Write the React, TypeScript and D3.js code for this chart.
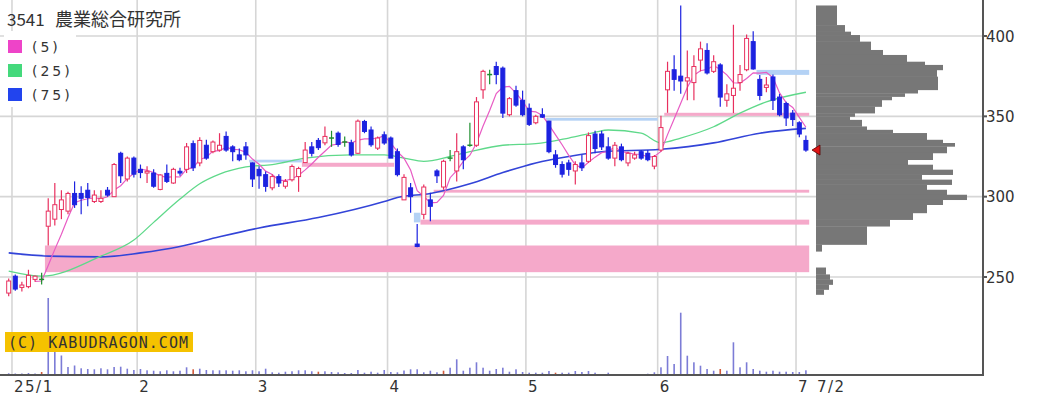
import React from "react";
import * as d3 from "d3";

// ---- Data ----
const titleCode = "3541";
const titleName = "農業総合研究所";
const maLabels = ["(5)", "(25)", "(75)"];

// trading-day index 0 = 2024/12/30 ... 121 = 2025/7/2
const openP = [
  240, 250.5, 243.5, 244, 248.5, 248.5, 281.6, 286, 292, 291,
  302, 302, 304, 297, 297, 304, 300, 327, 311, 324,
  317, 314.7, 314.7, 304.5, 314.5, 308.5, 315.8, 317, 333, 321,
  332, 328, 329, 337.5, 331, 326, 331, 321, 317, 313.7,
  305.5, 312.5, 306.5, 310.5, 312.5, 321.2, 331, 335, 333.5, 336.5,
  339.5, 334, 333.5, 327, 346.8, 341.5, 330.2, 338.5, 336.5, 328,
  298, 305.5, 270.5, 289, 298, 316, 306, 324, 316, 331,
  332, 332, 366.5, 376, 381, 380, 351, 366, 360, 355,
  346, 351, 347, 326, 320, 321, 316, 321, 322, 339,
  339, 331, 324, 331, 321, 324, 328, 327, 319, 329,
  366.5, 379, 375, 372, 371, 385, 391, 378, 382, 360,
  363, 371, 379, 396.5, 373, 368, 374.5, 362, 358, 352,
  346, 335,
];
const highP = [
  249, 251.5, 247, 254.5, 251, 252.6, 299, 308.5, 304, 303,
  309.5, 306.5, 308.5, 304, 304, 306, 321, 328, 325, 325,
  320, 319, 317, 314, 320, 318, 318, 333.4, 335, 337,
  335.5, 335, 339.5, 340.5, 332, 330, 334, 321.3, 319, 315.7,
  314, 314, 311, 320, 318.6, 334, 334, 336.5, 343.7, 341,
  340.5, 337.5, 335.5, 348, 347.8, 343.7, 337.5, 340.6, 337.5, 330,
  314, 308.5, 283, 307.5, 302.5, 317, 323, 329, 339.5, 332,
  346, 362, 379, 379, 384, 381, 362, 369, 366, 358,
  351, 355, 347.3, 329, 322, 323, 322, 326, 340, 341,
  341, 337, 334, 333, 328, 328, 329, 329, 326, 350.3,
  384, 388, 419, 391, 388, 396.5, 395.5, 388, 383, 370,
  407, 382, 401, 403, 375.8, 374.5, 376, 364, 359, 354,
  347, 338,
];
const lowP = [
  238, 241.5, 241, 243, 247, 245.3, 269.6, 282, 286, 289,
  293, 289, 294, 296, 296, 300, 300, 308.5, 309.5, 312,
  311.5, 308.5, 305.5, 304, 308.5, 308, 313, 314.7, 316, 319,
  323, 327, 328, 328, 322, 322, 323, 306, 305, 303,
  304, 306, 305, 309.5, 303, 321.1, 325, 329, 332, 331,
  331, 331, 325, 326.5, 339.5, 331, 329, 332.3, 324, 312.6,
  298, 290, 268.5, 286, 284.7, 308.5, 304.3, 322, 309.5, 317,
  331, 331, 361, 370, 370, 349, 350, 356, 350, 344,
  345, 349, 327, 318, 312, 313, 307.5, 316, 321, 327,
  329, 323, 319, 322, 319, 323, 323, 322, 317, 328,
  352.2, 366, 364, 360, 360, 378, 376, 377, 356, 356,
  352, 366, 378, 379, 360, 365, 354, 350, 344, 344,
  337, 328,
];
const closeP = [
  247.5, 242.5, 245, 251, 250.5, 248.5, 291, 295, 298, 302,
  295, 299, 299.5, 301, 299, 301, 320, 313, 324, 314,
  315, 315.8, 306.5, 313.5, 309.5, 317, 314.7, 331, 318, 335,
  324, 334, 332, 329, 328, 323, 326, 311, 313, 306.4,
  312.5, 308.5, 309.5, 318.8, 317.5, 329, 327, 330.5, 337.5, 336.5,
  332.5, 334, 326, 347, 340.6, 332.3, 336.5, 333.4, 324, 313.7,
  312, 300, 269, 306, 294, 313, 322, 324, 328, 323,
  332, 359, 378, 376, 376, 352, 361, 357, 351, 345,
  350, 349.5, 328, 320, 314, 317, 320, 318, 338, 330,
  331, 324, 332, 323, 327, 326, 324, 323, 325, 343,
  378, 373, 372, 374, 381, 392, 377, 384, 362, 364,
  367.5, 376, 398.5, 379.5, 363, 369.5, 360, 351, 349, 348,
  339, 329,
];
const volumeK = [
  17, 15, 15, 20, 15, 30, 770, 240, 195, 80,
  95, 67, 60, 57, 67, 57, 80, 83, 63, 50,
  60, 47, 43, 37, 47, 37, 43, 77, 57, 63,
  50, 47, 47, 47, 43, 47, 37, 47, 37, 63,
  27, 23, 33, 37, 47, 47, 37, 33, 37, 30,
  27, 20, 20, 50, 23, 33, 23, 50, 30, 27,
  45, 57, 57, 27, 43, 27, 43, 73, 157, 43,
  73, 127, 73, 43, 60, 73, 33, 57, 30, 23,
  23, 23, 40, 23, 23, 23, 40, 30, 40, 23,
  10, 23, 10, 10, 10, 10, 10, 13, 27, 77,
  190, 110, 623, 193, 127, 93, 60, 43, 60, 43,
  327, 77, 127, 60, 43, 33, 43, 33, 33, 30,
  30, 47,
];
const redVolumeDays = [5, 28, 47, 66, 83, 108];

// moving averages read at sample days
const ma25Day = [0, 5, 14, 19, 22, 26, 29, 32, 36, 40, 45, 52, 57, 60, 63, 67, 70, 75, 80, 85, 89, 91, 96, 99, 102, 107, 111, 115, 121];
const ma25Val = [253.6, 250.5, 263, 273, 284, 298.5, 308, 314, 318.5, 320, 324, 326, 326, 324, 322, 325, 328, 332, 333, 336.5, 340, 341.5, 339.5, 333.5, 336.5, 343.5, 352, 359, 365];
const ma75Day = [0, 6, 14, 20, 26, 32, 38, 47, 57, 59, 64, 70, 75, 80, 85, 90, 99, 107, 114, 121];
const ma75Val = [265, 263, 262.5, 265, 269, 275, 280.5, 287, 297, 299.5, 302, 308, 315, 321, 325, 328, 329.5, 333.5, 339.5, 342.5];

// window (gap) zones
const zoneFrom = [6, 37, 45, 62, 63, 65, 82, 100, 114];
const zoneTo = [121, 44, 58, 62, 121, 121, 98, 121, 121];
const zoneLo = [253, 321.3, 318.6, 284, 282.6, 302.5, 347.3, 350.3, 375.8];
const zoneHi = [269.6, 323, 321.1, 290, 285.7, 304.3, 349, 352.2, 378.9];
const zoneUp = [true, false, true, false, true, true, false, true, false];

// price-by-volume profile
const profHi = [419, 406.8, 402.7, 400.6, 396.5, 391.3, 388.2, 384, 382, 378.9, 374.7, 366.5, 364.4, 362.3, 360.2, 356.1, 352, 349.9, 347.8, 343.7, 341.6, 339.6, 335.4, 333.4, 331.3, 327.2, 323, 319.9, 316.8, 313.7, 310.6, 307.5, 304.3, 301.2, 298.1, 295, 289.9, 285.7, 281.6, 270.2, 255.9, 251.6, 248.4, 245.3, 242.2];
const profLo = [406.8, 402.7, 400.6, 396.5, 391.3, 388.2, 384, 382, 378.9, 374.7, 366.5, 364.4, 362.3, 360.2, 356.1, 352, 349.9, 347.8, 343.7, 341.6, 339.6, 335.4, 333.4, 331.3, 327.2, 323, 319.9, 316.8, 313.7, 310.6, 307.5, 304.3, 301.2, 298.1, 295, 289.9, 285.7, 281.6, 270.2, 266, 251.6, 248.4, 245.3, 242.2, 239.1];
const profVol = [21, 29, 35, 44, 55, 67, 91, 109, 127, 121, 122, 102, 89, 76, 66, 59, 39, 34, 46, 51, 77, 111, 127, 139, 131, 117, 92, 117, 137, 106, 136, 111, 131, 151, 127, 111, 97, 74, 51, 6, 10, 14, 17, 13, 8];

const priceTicks = [250, 300, 350, 400];
const monthTickDay = [1, 20, 38, 58, 79, 99, 120];
const monthTickLabel = ["25/1", "2", "3", "4", "5", "6", "7"];
const lastDateLabel = "7/2";

export default function App() {
  const W = 1044, H = 406;
  const N = closeP.length;
  const days = d3.range(N);
  const x = d3.scaleBand<number>().domain(days).range([5.4, 809.2]);
  const step = x.step();
  const cx = (i: number) => (x(i) as number) + step / 2;
  const y = d3.scaleLinear().domain([250, 400]).range([277, 36]);
  const vy = d3.scaleLinear().domain([0, 800]).range([375, 295]);
  const px = d3.scaleLinear().domain([0, 151]).range([816, 967]);
  const axisX = 983, baseY = 375;

  const ma5 = days.filter((i) => i >= 4).map((i) => ({ i, v: d3.mean(closeP.slice(i - 4, i + 1)) as number }));
  const lineLin = d3.line<{ i: number; v: number }>().x((d) => cx(d.i)).y((d) => y(d.v));
  const lineSmooth = d3.line<{ i: number; v: number }>().x((d) => cx(d.i)).y((d) => y(d.v)).curve(d3.curveMonotoneX);
  const ma25 = ma25Day.map((i, k) => ({ i, v: ma25Val[k] }));
  const ma75 = ma75Day.map((i, k) => ({ i, v: ma75Val[k] }));

  const upCol = "#e8305f", dnCol = "#1c22e0", dojiCol = "#1f8f2f";
  const lastY = y(closeP[N - 1]);

  return (
    <svg width={W} height={H} style={{ position: "absolute", left: 0, top: 0, background: "#fff" }}>
      <rect x={0} y={0} width={W} height={H} fill="#fff" />
      {/* grid */}
      {priceTicks.map((p) => (
        <line key={"h" + p} x1={0} x2={axisX} y1={y(p)} y2={y(p)} stroke="#d6d6d6" strokeWidth={1.6} />
      ))}
      {monthTickDay.map((i) => (
        <line key={"v" + i} x1={x(i) as number} x2={x(i) as number} y1={0} y2={baseY} stroke="#d6d6d6" strokeWidth={1.6} />
      ))}
      {/* zones */}
      {zoneFrom.map((s, k) => (
        <rect key={"z" + k} x={x(s) as number} width={(x(zoneTo[k]) as number) + step - (x(s) as number)}
          y={y(zoneHi[k])} height={Math.max(2, y(zoneLo[k]) - y(zoneHi[k]))}
          fill={zoneUp[k] ? "#f5a9ca" : "#b4d2f5"} />
      ))}
      {/* volume */}
      {volumeK.map((v, i) => (
        <rect key={"vol" + i} x={cx(i) - 0.8} width={1.6} y={vy(v)} height={baseY - vy(v)}
          fill={redVolumeDays.includes(i) ? "#d25a3c" : "#7c7cd6"} />
      ))}
      {/* moving averages */}
      <path d={lineSmooth(ma75) || ""} fill="none" stroke="#3344d8" strokeWidth={1.6} />
      <path d={lineSmooth(ma25) || ""} fill="none" stroke="#5fd98a" strokeWidth={1.3} />
      <path d={lineLin(ma5) || ""} fill="none" stroke="#e85cc4" strokeWidth={1.2} />
      {/* candles */}
      {days.map((i) => {
        const o = openP[i], c = closeP[i], h = highP[i], l = lowP[i];
        const col = c > o ? upCol : c < o ? dnCol : dojiCol;
        const xc = cx(i);
        const top = y(Math.max(o, c)), bot = y(Math.min(o, c));
        return (
          <g key={"c" + i}>
            <line x1={xc} x2={xc} y1={y(h)} y2={y(l)} stroke={col} strokeWidth={1.2} />
            {c === o ? (
              <line x1={xc - 2.5} x2={xc + 2.5} y1={top} y2={top} stroke={col} strokeWidth={1.5} />
            ) : (
              <rect x={xc - 2} width={4} y={top} height={Math.max(1, bot - top)}
                fill={c > o ? "#fff" : col} stroke={col} strokeWidth={1} />
            )}
          </g>
        );
      })}
      {/* volume profile */}
      {profVol.map((v, k) => (
        <rect key={"p" + k} x={816} width={px(v) - 816} y={y(profHi[k])} height={y(profLo[k]) - y(profHi[k]) + 0.3} fill="#777" />
      ))}
      <path d={`M${812},${lastY} L${820},${lastY - 5} L${820},${lastY + 5} Z`} fill="#e01414" stroke="#5a0000" strokeWidth={0.8} />
      {/* axes */}
      <line x1={axisX} x2={axisX} y1={0} y2={baseY + 1} stroke="#555" strokeWidth={2} />
      <line x1={0} x2={axisX + 1} y1={baseY} y2={baseY} stroke="#555" strokeWidth={2} />
      {priceTicks.map((p) => (
        <g key={"t" + p}>
          <line x1={axisX} x2={axisX + 4} y1={y(p)} y2={y(p)} stroke="#555" strokeWidth={2} />
          <text x={986} y={y(p) + 5.5} fontFamily="DejaVu Sans" fontSize={15} fill="#333">{p}</text>
        </g>
      ))}
      {monthTickDay.map((i, k) => (
        <text key={"m" + i} x={(x(i) as number) + 2} y={392} fontFamily="DejaVu Sans" fontSize={15} letterSpacing={1.5} fill="#333">
          {monthTickLabel[k]}
        </text>
      ))}
      <text x={817} y={392} fontFamily="DejaVu Sans" fontSize={15} letterSpacing={1.5} fill="#333">{lastDateLabel}</text>
      {/* title & legend */}
      <rect x={4} y={31} width={72} height={76} fill="#fff" />
      <text x={7} y={26} fontFamily="Noto Sans CJK JP" fontSize={17} fill="#333">{titleCode}</text>
      <text x={55} y={26} fontFamily="Noto Sans CJK JP" fontSize={18} fill="#333">{titleName}</text>
      {["#ee44c8", "#44d97c", "#2244ee"].map((col, k) => (
        <g key={"lg" + k}>
          <rect x={8} y={40 + k * 24} width={14} height={13} fill={col} />
          <text x={32} y={52 + k * 24} fontFamily="DejaVu Sans" fontSize={14} letterSpacing={3} fill="#333">{maLabels[k]}</text>
        </g>
      ))}
      {/* watermark */}
      <rect x={5} y={332} width={188} height={20} fill="#f5c200" />
      <text x={8} y={348} fontFamily="DejaVu Sans Mono" fontSize={15} fill="#333" textLength={180} lengthAdjust="spacing">(C) KABUDRAGON.COM</text>
    </svg>
  );
}
